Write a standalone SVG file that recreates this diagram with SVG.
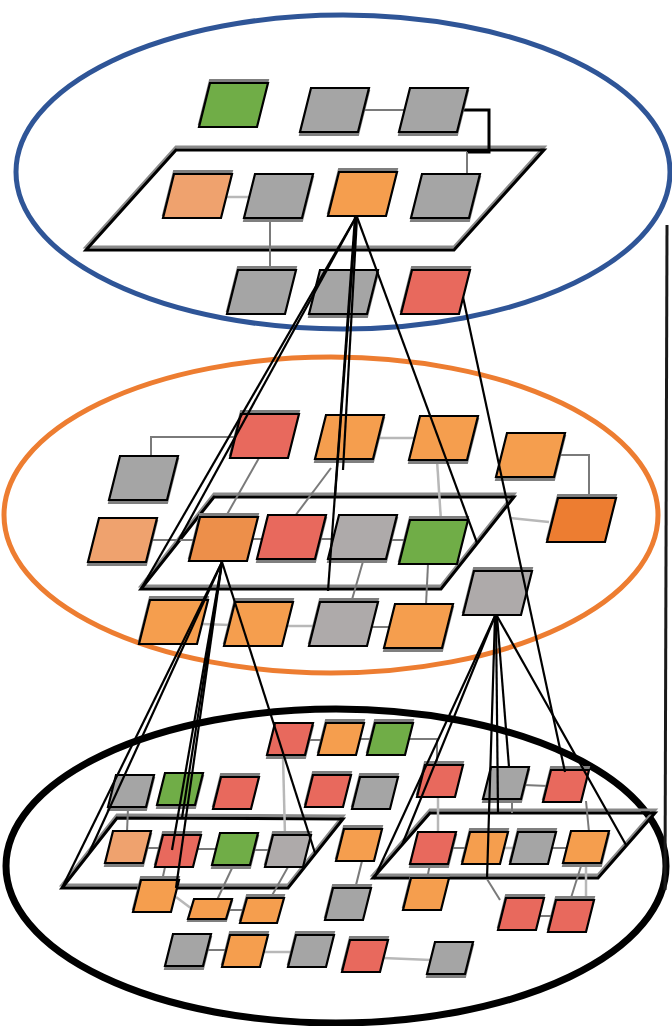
<svg xmlns="http://www.w3.org/2000/svg" xmlns:xlink="http://www.w3.org/1999/xlink" width="672" height="1026" viewBox="0 0 672 1026">
  <defs>
    <style>
      .gy{fill:#A5A5A5}.gw{fill:#AEAAAA}.gn{fill:#70AD47}.or{fill:#F59E4E}
      .lo{fill:#EFA26E}.po{fill:#ED8F4A}.do{fill:#ED7D31}.rd{fill:#E8695D}
      .nd{stroke:#000;stroke-width:2.2;stroke-linejoin:miter}
      .sh{fill:#7f7f7f;stroke:#7f7f7f;stroke-width:2}
      .pl{fill:none;stroke:#000;stroke-width:3;stroke-linejoin:miter}
      .pls{fill:none;stroke:#8a8a8a;stroke-width:3}
      .lk{fill:none;stroke:#7a7a7a;stroke-width:2}
      .lk2{fill:none;stroke:#b8b8b8;stroke-width:2.5}
      .cn{fill:none;stroke:#000;stroke-width:2.2}
    </style>
    <!-- node outlines: big, small, tiny, medium -->
    <path id="b" d="M11,0 H69 L58,44 H0 Z"/>
    <path id="s" d="M8,0 H46 L38,32 H0 Z"/>
    <path id="t" d="M6,0 H44 L38,20 H0 Z"/>
    <path id="m" d="M7,0 H44 L37,25 H0 Z"/>
  </defs>
  <rect width="672" height="1026" fill="#fff"/>

  <!-- tier boundaries -->
  <g id="tiers" fill="none">
    <ellipse cx="343" cy="172" rx="327" ry="157" stroke="#2F5597" stroke-width="5"/>
    <ellipse cx="331" cy="515" rx="327" ry="158" stroke="#ED7D31" stroke-width="5"/>
    <ellipse cx="336" cy="866" rx="330" ry="157" stroke="#000" stroke-width="7"/>
  </g>

  <!-- planes -->
  <g id="planes">
    <polygon class="pls" points="176,147 544,147 454,247 86,247"/>
    <polygon class="pl" points="176,150 544,150 454,250 86,250"/>
    <polygon class="pls" points="214,494 514,494 441,586 141,586"/>
    <polygon class="pl" points="214,497 514,497 441,589 141,589"/>
    <polygon class="pls" points="117,815 343,816 288,885 62,885"/>
    <polygon class="pl" points="117,818 343,819 288,888 62,888"/>
    <polygon class="pls" points="430,810 655,810 598,875 373,875"/>
    <polygon class="pl" points="430,813 655,813 598,878 373,878"/>
  </g>

  <!-- short links between neighbouring nodes -->
  <g id="links">
    <line class="lk" x1="364" y1="110" x2="405" y2="110"/>
    <polyline points="463,110 489,110 489,152 467,152" fill="none" stroke="#000" stroke-width="3"/>
    <line class="lk" x1="467" y1="152" x2="467" y2="175"/>
    <line class="lk2" x1="226" y1="197" x2="250" y2="197"/>
    <line class="lk" x1="270" y1="218" x2="270" y2="271"/>

    <polyline class="lk" points="236,437 151,437 151,457"/>
    <line class="lk2" x1="378" y1="438" x2="415" y2="438"/>
    <polyline class="lk" points="559,455 589,455 589,499"/>
    <line class="lk" x1="151" y1="540" x2="195" y2="540"/>
    <line class="lk" x1="252" y1="539" x2="263" y2="539"/>
    <line class="lk" x1="320" y1="539" x2="334" y2="539"/>
    <line class="lk" x1="391" y1="540" x2="405" y2="540"/>
    <line class="lk2" x1="510" y1="518" x2="549" y2="522"/>
    <line class="lk" x1="259" y1="458" x2="225" y2="518"/>
    <line class="lk" x1="331" y1="468" x2="295" y2="516"/>
    <line class="lk2" x1="437" y1="460" x2="441" y2="521"/>
    <line class="lk" x1="364" y1="558" x2="351" y2="603"/>
    <line class="lk" x1="428" y1="564" x2="426" y2="605"/>
    <line class="lk2" x1="202" y1="624" x2="230" y2="625"/>
    <line class="lk2" x1="287" y1="626" x2="315" y2="626"/>
    <line class="lk" x1="372" y1="627" x2="390" y2="627"/>

    <line class="lk" x1="308" y1="740" x2="322" y2="740"/>
    <line class="lk" x1="359" y1="739" x2="371" y2="739"/>
    <polyline class="lk" points="408,739 437,739 437,766"/>
    <line class="lk2" x1="283" y1="757" x2="285" y2="836"/>
    <line class="lk" x1="128" y1="808" x2="127" y2="832"/>
    <line class="lk" x1="146" y1="848" x2="159" y2="848"/>
    <line class="lk" x1="194" y1="849" x2="216" y2="849"/>
    <line class="lk" x1="251" y1="850" x2="269" y2="850"/>
    <line class="lk" x1="165" y1="867" x2="162" y2="881"/>
    <line class="lk2" x1="176" y1="897" x2="192" y2="909"/>
    <line class="lk" x1="229" y1="910" x2="244" y2="910"/>
    <line class="lk" x1="233" y1="866" x2="217" y2="900"/>
    <line class="lk" x1="288" y1="867" x2="270" y2="899"/>
    <line class="lk" x1="206" y1="950" x2="226" y2="950"/>
    <line class="lk2" x1="263" y1="952" x2="292" y2="952"/>
    <line class="lk2" x1="383" y1="958" x2="431" y2="960"/>
    <line class="lk" x1="362" y1="861" x2="355" y2="889"/>
    <line class="lk2" x1="438" y1="797" x2="438" y2="833"/>
    <line class="lk" x1="524" y1="785" x2="548" y2="786"/>
    <line class="lk" x1="512" y1="799" x2="512" y2="813"/>
    <line class="lk" x1="451" y1="848" x2="466" y2="848"/>
    <line class="lk2" x1="503" y1="848" x2="514" y2="848"/>
    <line class="lk" x1="551" y1="848" x2="567" y2="848"/>
    <line class="lk" x1="430" y1="864" x2="427" y2="879"/>
    <line class="lk" x1="582" y1="863" x2="570" y2="901"/>
    <line class="lk2" x1="586" y1="863" x2="586" y2="901"/>
    <line class="lk" x1="539" y1="916" x2="552" y2="916"/>
    <line class="lk" x1="487" y1="879" x2="500" y2="900"/>
    <line class="lk" x1="586" y1="801" x2="589" y2="832"/>
  </g>

  <!-- nodes -->
  <g id="n-t1"><use href="#b" class="sh" x="199" y="80"/><use href="#b" class="nd gn" x="199" y="83"/></g>
  <g id="n-t2"><use href="#b" class="sh" x="300" y="91"/><use href="#b" class="nd gy" x="300" y="88"/></g>
  <g id="n-t3"><use href="#b" class="sh" x="399" y="91"/><use href="#b" class="nd gy" x="399" y="88"/></g>
  <g id="n-t4"><use href="#b" class="sh" x="163" y="171"/><use href="#b" class="nd lo" x="163" y="174"/></g>
  <g id="n-t5"><use href="#b" class="sh" x="244" y="177"/><use href="#b" class="nd gy" x="244" y="174"/></g>
  <g id="n-t6"><use href="#b" class="sh" x="328" y="169"/><use href="#b" class="nd or" x="328" y="172"/></g>
  <g id="n-t7"><use href="#b" class="sh" x="411" y="177"/><use href="#b" class="nd gy" x="411" y="174"/></g>
  <g id="n-t8"><use href="#b" class="sh" x="227" y="267"/><use href="#b" class="nd gy" x="227" y="270"/></g>
  <g id="n-t9"><use href="#b" class="sh" x="309" y="273"/><use href="#b" class="nd gy" x="309" y="270"/></g>
  <g id="n-t10"><use href="#b" class="sh" x="401" y="267"/><use href="#b" class="nd rd" x="401" y="270"/></g>

  <g id="n-m1"><use href="#b" class="sh" x="230" y="411"/><use href="#b" class="nd rd" x="230" y="414"/></g>
  <g id="n-m2"><use href="#b" class="sh" x="315" y="418"/><use href="#b" class="nd or" x="315" y="415"/></g>
  <g id="n-m3"><use href="#b" class="sh" x="409" y="419"/><use href="#b" class="nd or" x="409" y="416"/></g>
  <g id="n-m4"><use href="#b" class="sh" x="496" y="436"/><use href="#b" class="nd or" x="496" y="433"/></g>
  <g id="n-m5"><use href="#b" class="sh" x="109" y="459"/><use href="#b" class="nd gy" x="109" y="456"/></g>
  <g id="n-m6"><use href="#b" class="sh" x="547" y="495"/><use href="#b" class="nd do" x="547" y="498"/></g>
  <g id="n-m7"><use href="#b" class="sh" x="88" y="521"/><use href="#b" class="nd lo" x="88" y="518"/></g>
  <g id="n-m8"><use href="#b" class="sh" x="189" y="514"/><use href="#b" class="nd po" x="189" y="517"/></g>
  <g id="n-m9"><use href="#b" class="sh" x="257" y="518"/><use href="#b" class="nd rd" x="257" y="515"/></g>
  <g id="n-m10"><use href="#b" class="sh" x="328" y="518"/><use href="#b" class="nd gw" x="328" y="515"/></g>
  <g id="n-m11"><use href="#b" class="sh" x="399" y="517"/><use href="#b" class="nd gn" x="399" y="520"/></g>
  <g id="n-m12"><use href="#b" class="sh" x="463" y="568"/><use href="#b" class="nd gw" x="463" y="571"/></g>
  <g id="n-m13"><use href="#b" class="sh" x="139" y="597"/><use href="#b" class="nd or" x="139" y="600"/></g>
  <g id="n-m14"><use href="#b" class="sh" x="224" y="599"/><use href="#b" class="nd or" x="224" y="602"/></g>
  <g id="n-m15"><use href="#b" class="sh" x="309" y="599"/><use href="#b" class="nd gw" x="309" y="602"/></g>
  <g id="n-m16"><use href="#b" class="sh" x="384" y="607"/><use href="#b" class="nd or" x="384" y="604"/></g>

  <g id="n-b1"><use href="#s" class="sh" x="267" y="726"/><use href="#s" class="nd rd" x="267" y="723"/></g>
  <g id="n-b2"><use href="#s" class="sh" x="318" y="720"/><use href="#s" class="nd or" x="318" y="723"/></g>
  <g id="n-b3"><use href="#s" class="sh" x="367" y="720"/><use href="#s" class="nd gn" x="367" y="723"/></g>
  <g id="n-b4"><use href="#s" class="sh" x="108" y="778"/><use href="#s" class="nd gy" x="108" y="775"/></g>
  <g id="n-b5"><use href="#s" class="sh" x="157" y="776"/><use href="#s" class="nd gn" x="157" y="773"/></g>
  <g id="n-b6"><use href="#s" class="sh" x="213" y="774"/><use href="#s" class="nd rd" x="213" y="777"/></g>
  <g id="n-b7"><use href="#s" class="sh" x="305" y="772"/><use href="#s" class="nd rd" x="305" y="775"/></g>
  <g id="n-b8"><use href="#s" class="sh" x="352" y="774"/><use href="#s" class="nd gy" x="352" y="777"/></g>
  <g id="n-b9"><use href="#s" class="sh" x="417" y="762"/><use href="#s" class="nd rd" x="417" y="765"/></g>
  <g id="n-b10"><use href="#s" class="sh" x="483" y="770"/><use href="#s" class="nd gy" x="483" y="767"/></g>
  <g id="n-b11"><use href="#s" class="sh" x="543" y="767"/><use href="#s" class="nd rd" x="543" y="770"/></g>
  <g id="n-b12"><use href="#s" class="sh" x="105" y="834"/><use href="#s" class="nd lo" x="105" y="831"/></g>
  <g id="n-b13"><use href="#s" class="sh" x="155" y="832"/><use href="#s" class="nd rd" x="155" y="835"/></g>
  <g id="n-b14"><use href="#s" class="sh" x="212" y="836"/><use href="#s" class="nd gn" x="212" y="833"/></g>
  <g id="n-b15"><use href="#s" class="sh" x="265" y="832"/><use href="#s" class="nd gw" x="265" y="835"/></g>
  <g id="n-b16"><use href="#s" class="sh" x="336" y="826"/><use href="#s" class="nd or" x="336" y="829"/></g>
  <g id="n-b17"><use href="#s" class="sh" x="410" y="835"/><use href="#s" class="nd rd" x="410" y="832"/></g>
  <g id="n-b18"><use href="#s" class="sh" x="462" y="829"/><use href="#s" class="nd or" x="462" y="832"/></g>
  <g id="n-b19"><use href="#s" class="sh" x="510" y="829"/><use href="#s" class="nd gy" x="510" y="832"/></g>
  <g id="n-b20"><use href="#s" class="sh" x="563" y="834"/><use href="#s" class="nd or" x="563" y="831"/></g>
  <g id="n-b21"><use href="#s" class="sh" x="133" y="877"/><use href="#s" class="nd or" x="133" y="880"/></g>
  <g id="n-b22"><use href="#t" class="sh" x="188" y="901"/><use href="#t" class="nd or" x="188" y="899"/></g>
  <g id="n-b23"><use href="#m" class="sh" x="240" y="895"/><use href="#m" class="nd or" x="240" y="898"/></g>
  <g id="n-b24"><use href="#s" class="sh" x="325" y="885"/><use href="#s" class="nd gy" x="325" y="888"/></g>
  <g id="n-b25"><use href="#s" class="sh" x="403" y="875"/><use href="#s" class="nd or" x="403" y="878"/></g>
  <g id="n-b26"><use href="#s" class="sh" x="498" y="895"/><use href="#s" class="nd rd" x="498" y="898"/></g>
  <g id="n-b27"><use href="#s" class="sh" x="548" y="897"/><use href="#s" class="nd rd" x="548" y="900"/></g>
  <g id="n-b28"><use href="#s" class="sh" x="165" y="937"/><use href="#s" class="nd gy" x="165" y="934"/></g>
  <g id="n-b29"><use href="#s" class="sh" x="222" y="932"/><use href="#s" class="nd or" x="222" y="935"/></g>
  <g id="n-b30"><use href="#s" class="sh" x="288" y="932"/><use href="#s" class="nd gy" x="288" y="935"/></g>
  <g id="n-b31"><use href="#s" class="sh" x="342" y="937"/><use href="#s" class="nd rd" x="342" y="940"/></g>
  <g id="n-b32"><use href="#s" class="sh" x="427" y="945"/><use href="#s" class="nd gy" x="427" y="942"/></g>

  <!-- expansion connectors between tiers -->
  <g id="connectors">
    <line class="cn" x1="356" y1="217" x2="177" y2="543"/>
    <line class="cn" x1="356" y1="217" x2="141" y2="589"/>
    <line class="cn" x1="355" y1="217" x2="328" y2="591"/>
    <line class="cn" x1="356" y1="217" x2="335" y2="497"/>
    <line class="cn" x1="357" y1="217" x2="343" y2="470"/>
    <line class="cn" x1="357" y1="217" x2="477" y2="543"/>
    <line class="cn" x1="463" y1="297" x2="565" y2="772"/>

    <line class="cn" x1="222" y1="562" x2="89" y2="853"/>
    <line class="cn" x1="222" y1="562" x2="62" y2="888"/>
    <line class="cn" x1="222" y1="562" x2="182" y2="818"/>
    <line class="cn" x1="222" y1="562" x2="172" y2="850"/>
    <line class="cn" x1="222" y1="562" x2="176" y2="888"/>
    <line class="cn" x1="222" y1="562" x2="315" y2="853"/>

    <line class="cn" x1="495" y1="616" x2="402" y2="845"/>
    <line class="cn" x1="495" y1="616" x2="374" y2="879"/>
    <line class="cn" x1="495" y1="616" x2="487" y2="879"/>
    <line class="cn" x1="496" y1="616" x2="498" y2="813"/>
    <line class="cn" x1="497" y1="616" x2="509" y2="767"/>
    <line class="cn" x1="497" y1="616" x2="626" y2="845"/>

    <line x1="667" y1="225" x2="665" y2="890" stroke="#1a1a1a" stroke-width="3"/>
  </g>
</svg>
